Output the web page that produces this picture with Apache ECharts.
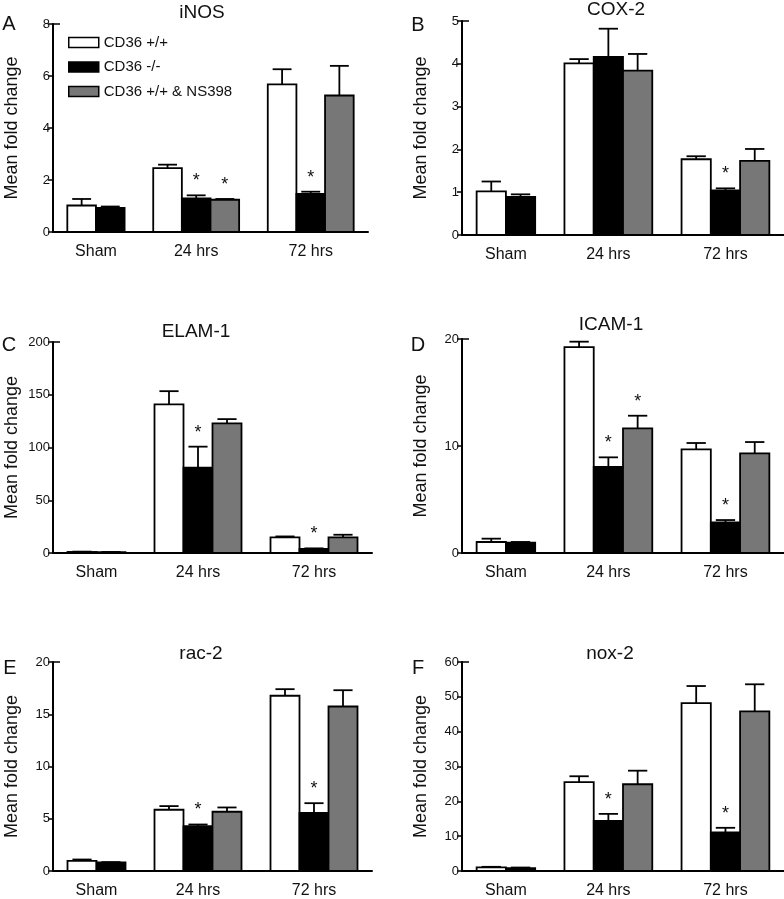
<!DOCTYPE html>
<html><head><meta charset="utf-8">
<script src="https://cdn.jsdelivr.net/npm/echarts@6/dist/echarts.min.js"></script>
<style>html,body{margin:0;padding:0;background:#fff}#c{width:784px;height:899px}</style>
</head><body><div id="c"></div>
<script>
// ---------- data ----------
const categories = ['Sham', '24 hrs', '72 hrs'];
const groupSizes = [2, 3, 3];
const seriesNames = ['CD36 +/+', 'CD36 -/-', 'CD36 +/+ & NS398'];
const seriesColors = ['#ffffff', '#000000', '#777777'];
const panelTitles = ['iNOS', 'COX-2', 'ELAM-1', 'ICAM-1', 'rac-2', 'nox-2'];
const panelLetters = ['A', 'B', 'C', 'D', 'E', 'F'];
const yMaxes = [8, 5, 200, 20, 20, 60];
const yIntervals = [2, 1, 50, 10, 5, 10];

// rows: CD36 +/+, CD36 -/-, CD36 +/+ & NS398 ; columns: Sham, 24 hrs, 72 hrs
const iNOS_mean = [[1.02, 2.46, 5.68], [0.93, 1.29, 1.47], [null, 1.24, 5.25]];
const iNOS_sem  = [[0.25, 0.13, 0.58], [0.05, 0.12, 0.08], [null, 0.03, 1.14]];
const iNOS_star = [[0, 0, 0], [0, 1, 1], [0, 1, 0]];

const COX2_mean = [[1.02, 4.01, 1.77], [0.89, 4.16, 1.04], [null, 3.84, 1.73]];
const COX2_sem  = [[0.23, 0.10, 0.07], [0.06, 0.66, 0.05], [null, 0.39, 0.28]];
const COX2_star = [[0, 0, 0], [0, 0, 1], [0, 0, 0]];

const ELAM1_mean = [[1.0, 140.8, 14.8], [0.8, 80.9, 3.8], [null, 122.8, 14.8]];
const ELAM1_sem  = [[0.3, 12.6, 0.9], [0.2, 19.9, 0.6], [null, 4.1, 2.5]];
const ELAM1_star = [[0, 0, 0], [0, 1, 1], [0, 0, 0]];

const ICAM1_mean = [[1.03, 19.25, 9.69], [0.97, 8.04, 2.87], [null, 11.65, 9.31]];
const ICAM1_sem  = [[0.31, 0.50, 0.59], [0.06, 0.90, 0.21], [null, 1.18, 1.06]];
const ICAM1_star = [[0, 0, 0], [0, 1, 1], [0, 1, 0]];

const rac2_mean = [[0.97, 5.86, 16.77], [0.82, 4.29, 5.55], [null, 5.67, 15.74]];
const rac2_sem  = [[0.13, 0.35, 0.63], [0.03, 0.16, 0.94], [null, 0.41, 1.56]];
const rac2_star = [[0, 0, 0], [0, 1, 1], [0, 0, 0]];

const nox2_mean = [[1.03, 25.5, 48.2], [0.85, 14.4, 11.1], [null, 24.9, 45.8]];
const nox2_sem  = [[0.17, 1.7, 4.9], [0.15, 2.0, 1.3], [null, 3.9, 7.8]];
const nox2_star = [[0, 0, 0], [0, 1, 1], [0, 0, 0]];

const panelMeans = [iNOS_mean, COX2_mean, ELAM1_mean, ICAM1_mean, rac2_mean, nox2_mean];
const panelSems = [iNOS_sem, COX2_sem, ELAM1_sem, ICAM1_sem, rac2_sem, nox2_sem];
const panelStars = [iNOS_star, COX2_star, ELAM1_star, ICAM1_star, rac2_star, nox2_star];

// ---------- layout ----------
const FONT = "'Liberation Sans', Arial, Helvetica, sans-serif";
const gridRects = [
  {left: 53, top: 24, width: 315, height: 208},
  {left: 462, top: 21, width: 322, height: 214},
  {left: 53, top: 342, width: 319, height: 211},
  {left: 462, top: 339, width: 322, height: 214},
  {left: 53, top: 662, width: 319, height: 212},
  {left: 462, top: 662, width: 322, height: 212}
];
const titlePos = [[202, 13], [616, 10], [196, 332], [611, 325], [201, 654], [610, 654]];
const letterPos = [[9, 24], [418, 25], [9, 345], [418, 345], [10, 668], [418, 668]];

// slot positions along x (bar units) derived from the group structure
const slotPos = [];
let cursor = 1;
groupSizes.forEach(n => {
  const arr = [];
  for (let i = 0; i < n; i++) arr.push(cursor + i);
  slotPos.push(arr);
  cursor += n + 1;
});
const xMax = cursor - 1;
const labelPos = slotPos.map(a => (a[0] + a[a.length - 1]) / 2);

const LW = 1.8;

function renderBar(params, api) {
  const x = api.value(0), y = api.value(1), e = api.value(2), star = api.value(3);
  const bl = api.coord([x - 0.5, 0]);
  const tr = api.coord([x + 0.5, y]);
  const ctop = api.coord([x, y]);
  const cap = api.coord([x, y + e]);
  const capHalf = api.size([0.33, 0])[0];
  const style = api.style();
  const children = [];
  if (e > 0) {
    children.push({type: 'line', shape: {x1: ctop[0], y1: ctop[1], x2: cap[0], y2: cap[1]},
      style: {stroke: '#000', lineWidth: LW}});
    children.push({type: 'line', shape: {x1: cap[0] - capHalf, y1: cap[1], x2: cap[0] + capHalf, y2: cap[1]},
      style: {stroke: '#000', lineWidth: LW}});
  }
  children.push({type: 'rect', shape: {x: bl[0], y: tr[1], width: tr[0] - bl[0], height: bl[1] - tr[1]},
    style: {fill: style.fill, stroke: '#000', lineWidth: LW}});
  if (star) {
    children.push({type: 'text', style: {text: '*', x: cap[0], y: cap[1] - 14, align: 'center', verticalAlign: 'middle',
      font: '18px ' + FONT, fill: '#111'}});
  }
  return {type: 'group', children};
}

const option = {
  backgroundColor: '#fff',
  animation: false,
  textStyle: {fontFamily: FONT},
  title: [],
  grid: [],
  xAxis: [],
  yAxis: [],
  series: [],
  legend: {
    left: 68, top: 34, orient: 'vertical', itemWidth: 30, itemHeight: 10, itemGap: 7.5,
    icon: 'rect', selectedMode: false, padding: 0,
    textStyle: {fontSize: 15, color: '#111', fontFamily: FONT, lineHeight: 17},
    data: seriesNames.map((n, k) => ({name: n, icon: 'rect',
      itemStyle: {color: seriesColors[k], borderColor: '#000', borderWidth: 1.5}}))
  }
};

panelTitles.forEach((t, i) => {
  option.title.push({text: t, left: titlePos[i][0], top: titlePos[i][1], padding: 0,
    textAlign: 'center', textVerticalAlign: 'middle',
    textStyle: {fontSize: 19, fontWeight: 'normal', color: '#111', fontFamily: FONT}});
  option.title.push({text: panelLetters[i], left: letterPos[i][0], top: letterPos[i][1], padding: 0,
    textAlign: 'center', textVerticalAlign: 'middle',
    textStyle: {fontSize: 20, fontWeight: 'normal', color: '#111', fontFamily: FONT}});
  option.grid.push(Object.assign({containLabel: false}, gridRects[i]));
  option.xAxis.push({
    gridIndex: i, type: 'value', min: 0, max: xMax,
    axisLine: {show: true, lineStyle: {color: '#000', width: 2}},
    axisTick: {show: false}, splitLine: {show: false},
    axisLabel: {customValues: labelPos, margin: 12, fontSize: 16, color: '#111', fontFamily: FONT,
      formatter: v => { const k = labelPos.findIndex(p => Math.abs(p - v) < 1e-6); return k >= 0 ? categories[k] : ''; }}
  });
  option.yAxis.push({
    gridIndex: i, type: 'value', min: 0, max: yMaxes[i], interval: yIntervals[i],
    axisLine: {show: true, lineStyle: {color: '#000', width: 2}},
    axisTick: {show: true, inside: false, length: 5, lineStyle: {color: '#000', width: 1.5}},
    splitLine: {show: false},
    axisLabel: {fontSize: 13, color: '#111', margin: 3, fontFamily: FONT},
    name: 'Mean fold change', nameLocation: 'middle', nameGap: 32,
    nameTextStyle: {fontSize: 18, color: '#111', fontFamily: FONT}
  });
  option.yAxis.push({
    gridIndex: i, type: 'value', min: 0, max: yMaxes[i], position: 'left',
    axisLine: {show: false}, axisLabel: {show: false}, splitLine: {show: false},
    axisTick: {show: true, inside: true, length: 7, customValues: [yMaxes[i]], lineStyle: {color: '#000', width: 1.5}}
  });
  seriesNames.forEach((name, s) => {
    const data = [];
    categories.forEach((c, g) => {
      const m = panelMeans[i][s][g];
      if (m === null || m === undefined) return;
      data.push([slotPos[g][s], m, panelSems[i][s][g], panelStars[i][s][g]]);
    });
    option.series.push({
      type: 'custom', name, xAxisIndex: i, yAxisIndex: 2 * i,
      itemStyle: {color: seriesColors[s], borderColor: '#000', borderWidth: 1.5},
      encode: {x: 0, y: 1}, clip: false, silent: true,
      renderItem: renderBar, data
    });
  });
});

const chart = echarts.init(document.getElementById('c'), null, {renderer: 'canvas'});
chart.setOption(option);
</script></body></html>
